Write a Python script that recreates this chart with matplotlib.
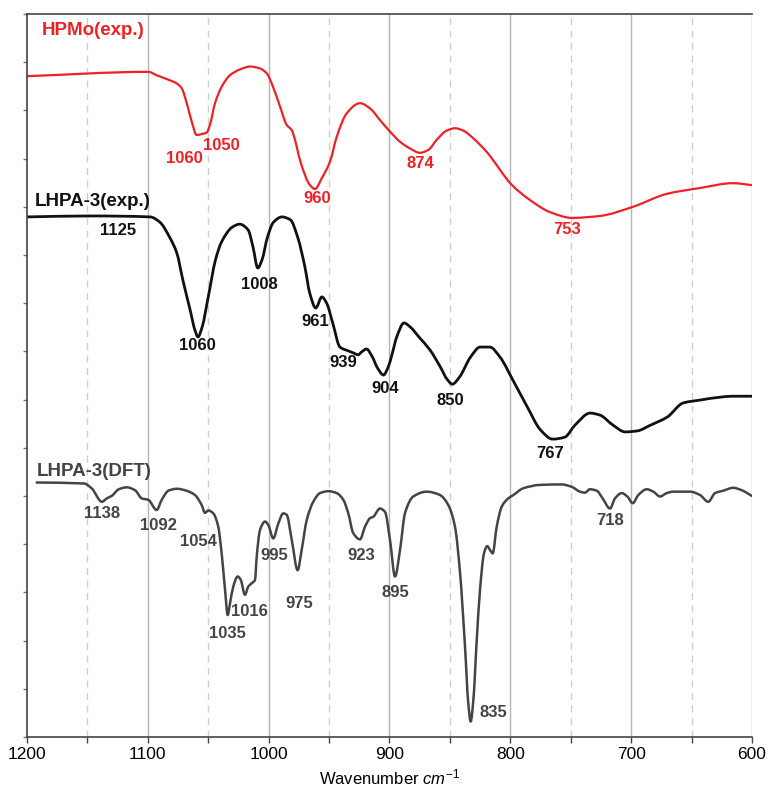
import matplotlib
matplotlib.use("Agg")
import matplotlib.pyplot as plt
import numpy as np
from matplotlib.path import Path
from matplotlib.patches import PathPatch

plt.rcParams['font.family'] = ['Liberation Sans', 'DejaVu Sans']
plt.rcParams['mathtext.fontset'] = 'custom'
plt.rcParams['mathtext.rm'] = 'Liberation Sans'
plt.rcParams['mathtext.it'] = 'Liberation Sans:italic'

# ---------------- data (wavenumber, intensity in arbitrary offset units) ----------------
hpmo_wn = [1200, 1099.6, 1092.7, 1084.4, 1076.1, 1072, 1067.8, 1063.7, 1059.6, 1055.4, 1051.3, 1048.6,
           1044.4, 1038.9, 1032, 1023.7, 1015.4, 1007.2, 1001.6, 997.5, 990.6, 985.1, 980.9, 978.2,
           974.1, 965.8, 961.7, 955.9, 949.2, 943.7, 935.4, 924.4, 916.1, 907.9, 899.6, 891.3, 883,
           874.8, 867.9, 860.9, 852.7, 845.8, 838.9, 830.6, 819.6, 798.6, 783.7, 767.2, 749, 725.8,
           698.5, 670.3, 643, 615.7, 600]
hpmo_y = [13.71, 13.80, 13.73, 13.65, 13.56, 13.46, 13.15, 12.77, 12.49, 12.51, 12.54, 12.70,
          13.15, 13.49, 13.73, 13.85, 13.91, 13.87, 13.77, 13.56, 13.08, 12.70, 12.59, 12.39,
          11.97, 11.45, 11.37, 11.60, 11.94, 12.45, 12.94, 13.15, 13.04, 12.80, 12.56, 12.35, 12.21,
          12.12, 12.18, 12.39, 12.58, 12.63, 12.58, 12.42, 12.14, 11.45, 11.14, 10.89, 10.77, 10.81,
          11.00, 11.27, 11.39, 11.49, 11.45]

lhpa_wn = [1200, 1148, 1098, 1090, 1082, 1076, 1071, 1065, 1061, 1058.5, 1055, 1050, 1044, 1039, 1030, 1024,
           1017, 1013, 1009, 1005.5, 1001, 996, 989, 982, 976, 970, 966, 961, 956, 952, 947, 941,
           934, 930, 926, 923, 919, 914.5, 910, 905, 901, 898, 894, 888, 883, 875, 866.5, 858,
           852, 848, 842, 833, 825, 817, 808.5, 798, 786, 775, 765, 755, 746.5, 734, 726, 715,
           705, 695, 684, 670, 657, 643, 626.5, 616, 600]
lhpa_y = [10.79, 10.81, 10.79, 10.68, 10.37, 10.04, 9.48, 8.86, 8.44, 8.30, 8.51, 9.13, 9.90, 10.27, 10.58, 10.64,
          10.52, 10.17, 9.73, 9.90, 10.37, 10.68, 10.79, 10.73, 10.37, 9.75, 9.21, 8.90, 9.13, 9.00, 8.59, 8.09,
          8.01, 7.97, 7.93, 7.99, 8.05, 7.90, 7.66, 7.51, 7.68, 7.93, 8.30, 8.59, 8.51, 8.28, 8.03, 7.68,
          7.41, 7.32, 7.47, 7.88, 8.09, 8.09, 7.88, 7.41, 6.85, 6.37, 6.18, 6.22, 6.47, 6.72, 6.68, 6.47,
          6.33, 6.35, 6.47, 6.64, 6.93, 6.99, 7.05, 7.07, 7.07]

dft_wn = [1192, 1153, 1146.5, 1138, 1134, 1130, 1124, 1117.5, 1110.6, 1105, 1099.6, 1092.7, 1088.5, 1083,
          1076, 1068, 1061, 1055.4, 1052.7, 1050, 1045.8, 1041.7, 1038.9, 1036.1, 1033.9, 1032, 1029.3,
          1025.6, 1023.1, 1019.6, 1016.9, 1014, 1011.3, 1009.9, 1007.2, 1003, 1000.3, 996.2, 992, 987.9,
          985.1, 980.9, 976, 972.7, 968.5, 963.1, 957.5, 950.6, 943.7, 938.2, 934.1, 930, 924.4, 920.3,
          916.1, 913.4, 907.9, 903.7, 899.6, 895.4, 891.3, 887.2, 880.3, 869.2, 858.2, 851.3, 845.8,
          841.6, 837.5, 834.8, 832.8, 830.6, 827.8, 825.1, 821.8, 819.1, 816.8, 814.6, 811.3, 807.1,
          801.7, 797.5, 789.3, 775.4, 757.5, 749.2, 742.3, 738.2, 734.1, 728.5, 723.6, 717.5, 713.4,
          707.8, 703.2, 698.7, 694.1, 687.1, 681.7, 676.1, 670.6, 665.1, 651.3, 643, 636.2, 630.6,
          623.8, 615.5, 608.5, 600]
dft_y = [5.28, 5.26, 5.16, 4.88, 4.95, 5.00, 5.14, 5.18, 5.12, 4.95, 4.92, 4.71, 4.92, 5.11,
         5.15, 5.11, 5.02, 4.81, 4.65, 4.70, 4.64, 4.36, 3.81, 3.05, 2.53, 2.77, 3.12,
         3.33, 3.26, 2.95, 3.12, 3.19, 3.26, 3.74, 4.29, 4.47, 4.40, 4.12, 4.43, 4.64,
         4.61, 4.09, 3.46, 3.88, 4.50, 4.88, 5.06, 5.10, 5.06, 4.92, 4.64, 4.23, 4.10, 4.36,
         4.54, 4.57, 4.74, 4.67, 4.09, 3.33, 3.88, 4.64, 4.99, 5.09, 5.02, 4.81, 4.36,
         3.40, 1.87, 0.70, 0.32, 0.77, 2.01, 3.05, 3.81, 3.96, 3.88, 3.81, 4.36, 4.78,
         4.95, 5.02, 5.16, 5.23, 5.24, 5.19, 5.09, 5.07, 5.14, 5.11, 4.95, 4.74, 4.95,
         5.06, 4.99, 4.85, 5.02, 5.14, 5.09, 4.99, 5.06, 5.09, 5.09, 5.02, 4.88, 5.06,
         5.11, 5.17, 5.12, 5.00]

series_names = ["HPMo(exp.)", "LHPA-3(exp.)", "LHPA-3(DFT)"]

hpmo_peaks = ["1060", "1050", "960", "874", "753"]
lhpa_peaks = ["1125", "1008", "1060", "961", "939", "904", "850", "767"]
dft_peaks = ["1138", "1092", "1054", "1035", "1016", "995", "975", "923", "895", "835", "718"]

xticks = [1200, 1100, 1000, 900, 800, 700, 600]

# ---------------- positions / styles ----------------
hpmo_lab_pos = [(1070, 12.01), (1039.4, 12.28), (960, 11.18), (874.8, 11.89), (753, 10.52)]
lhpa_lab_pos = [(1124.7, 10.50), (1008, 9.38), (1059.3, 8.13), (961.7, 8.61), (938.5, 7.76),
                (903.7, 7.22), (849.9, 6.99), (767.2, 5.89)]
dft_lab_pos = [(1137.9, 4.63), (1091.6, 4.38), (1058.5, 4.05), (1034.5, 2.14), (1016.3, 2.61),
               (995.6, 3.76), (974.9, 2.78), (923.6, 3.76), (895.4, 2.99), (814.3, 0.50), (717.5, 4.50)]
name_pos = [(1187.6, 14.65), (1193.4, 11.10), (1191.7, 5.50)]

RED = '#ee2127'
BLACK = '#111111'
GRAY = '#444444'


def smooth_path(xs, ys):
    """Monotone cubic Hermite (Fritsch-Carlson) rendered as Bezier path through the read points."""
    x = np.asarray(xs, float)
    y = np.asarray(ys, float)
    h = np.diff(x)
    d = np.diff(y) / h
    n = len(x)
    m = np.zeros(n)
    m[0] = d[0]
    m[-1] = d[-1]
    for i in range(1, n - 1):
        if d[i - 1] * d[i] <= 0:
            m[i] = 0.0
        else:
            w1 = 2 * h[i] + h[i - 1]
            w2 = h[i] + 2 * h[i - 1]
            m[i] = (w1 + w2) / (w1 / d[i - 1] + w2 / d[i])
    verts = [(x[0], y[0])]
    codes = [Path.MOVETO]
    for i in range(n - 1):
        dx = h[i] / 3.0
        verts += [(x[i] + dx, y[i] + m[i] * dx),
                  (x[i + 1] - dx, y[i + 1] - m[i + 1] * dx),
                  (x[i + 1], y[i + 1])]
        codes += [Path.CURVE4] * 3
    return Path(verts, codes)


fig = plt.figure(figsize=(7.68, 7.89), dpi=100)
ax = fig.add_axes([27/768, 52/789, 725/768, 723/789])

ax.set_xlim(1200, 600)
ax.set_ylim(0, 15)

# grid
for w in range(1150, 599, -50):
    if w % 100 == 0:
        ax.axvline(w, color='#b5b5b5', lw=1.0, zorder=0)
    else:
        ax.axvline(w, color='#cfcfcf', lw=1.0, ls=(0, (5, 4)), zorder=0)

for xs, ys, c, lw in [(hpmo_wn, hpmo_y, RED, 1.6), (lhpa_wn, lhpa_y, BLACK, 2.0), (dft_wn, dft_y, GRAY, 1.8)]:
    ax.add_patch(PathPatch(smooth_path(xs, ys), fill=False, edgecolor=c, lw=lw,
                           joinstyle='round', capstyle='round', transform=ax.transData))

fs = 12
for t, (x, y) in zip(hpmo_peaks, hpmo_lab_pos):
    ax.text(x, y, t, color=RED, fontsize=fs, fontweight='bold', ha='center', va='center')
for t, (x, y) in zip(lhpa_peaks, lhpa_lab_pos):
    ax.text(x, y, t, color=BLACK, fontsize=fs, fontweight='bold', ha='center', va='center')
for t, (x, y) in zip(dft_peaks, dft_lab_pos):
    ax.text(x, y, t, color=GRAY, fontsize=fs, fontweight='bold', ha='center', va='center')

for name, (x, y), c in zip(series_names, name_pos, [RED, BLACK, GRAY]):
    ax.text(x, y, name, color=c, fontsize=13.5, fontweight='bold', ha='left', va='center')

ax.set_xticks(xticks)
ax.set_xticks(list(range(1150, 599, -100)), minor=True)
ax.set_xticklabels([str(v) for v in xticks], fontsize=12.5)
ax.set_yticks(range(0, 16))
ax.set_yticklabels([])
ax.tick_params(axis='x', which='both', direction='out', length=4, width=1, color='#444444', pad=3)
ax.tick_params(axis='y', direction='out', length=3, width=1, color='#777777')

for s in ['left', 'bottom', 'top']:
    ax.spines[s].set_color('#444444')
    ax.spines[s].set_linewidth(1.2)
ax.spines['right'].set_visible(False)

ax.set_xlabel(r'Wavenumber $cm^{-1}$', fontsize=12, labelpad=4.5)

fig.savefig('out.png', dpi=100)
